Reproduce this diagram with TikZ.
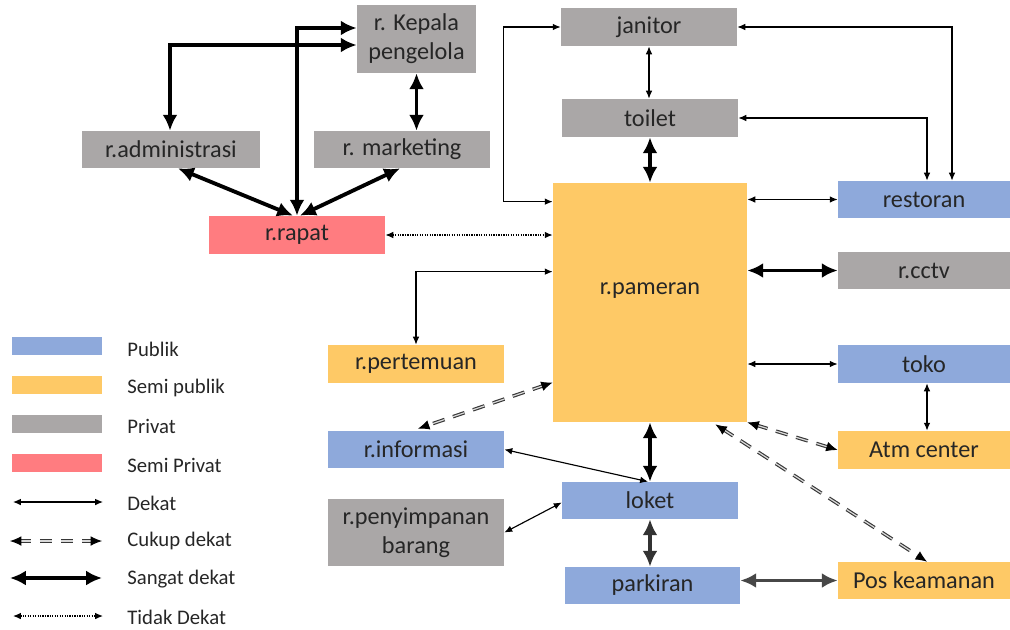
\documentclass[tikz,border=0pt]{standalone}
\usepackage{fontspec}
\setmainfont{Carlito}
\usetikzlibrary{arrows.meta,calc}
\newcommand\upx{*0.02cm}
\definecolor{publik}{RGB}{142,169,219}
\definecolor{semipublik}{RGB}{254,201,102}
\definecolor{privat}{RGB}{170,167,167}
\definecolor{semiprivat}{RGB}{255,124,128}
\definecolor{ink}{RGB}{38,38,38}
\definecolor{dashgray}{RGB}{55,55,55}
\begin{document}
\begin{tikzpicture}[x=0.02cm,y=-0.02cm,
  box/.style 2 args={rectangle, inner sep=0pt, text=ink, align=center,
    font=\fontsize{13.8}{16.5}\selectfont,
    minimum width=#1\upx, minimum height=#2\upx},
  swatch/.style={rectangle, inner sep=0pt, minimum width=90\upx, minimum height=18\upx},
  legtext/.style={anchor=west, inner sep=0pt, text=ink, font=\fontsize{11.8}{14}\selectfont},
  sangat/.style={line width=2.2pt, draw=black, {Latex[length=9pt,width=8.5pt]}-{Latex[length=9pt,width=8.5pt]}},
  dekat/.style={line width=0.65pt, draw=black, {Latex[length=4.5pt,width=3.8pt]}-{Latex[length=4.5pt,width=3.8pt]}},
  tidak/.style={line width=0.7pt, draw=black, dash pattern=on 0.7pt off 0.7pt,
    {Latex[length=4.5pt,width=3.8pt]}-{Latex[length=4.5pt,width=3.8pt]}},
  cukup/.style={line width=0.5pt, draw=black, dash pattern=on 0pt off 2000pt,
    {Latex[length=6.5pt,width=5.5pt]}-{Latex[length=6.5pt,width=5.5pt]},
    preaction={draw=dashgray, -, shorten <=5pt, shorten >=5pt, line width=0.65pt,
      double=white!85!black, double distance=0.7pt, dash pattern=on 7pt off 5pt}}
]
\useasboundingbox (0,0) rectangle (1010,629);

% rooms: private group (top left)
\node[box={119}{68}, fill=privat] (kepala) at (416.5,39) {r. Kepala\\pengelola};
\node[box={178}{37}, fill=privat] (admin) at (171,149.5) {r.administrasi};
\node[box={176}{37}, fill=privat] (marketing) at (402,149.5) {r. marketing};
\node[box={176}{38}, fill=semiprivat] (rapat) at (297,235) {r.rapat};

% rooms: central column
\node[box={176}{38}, fill=privat] (janitor) at (649,27) {janitor};
\node[box={176}{38}, fill=privat] (toilet) at (650,118) {toilet};
\node[box={194}{239}, fill=semipublik] (pameran) at (650,302.5) {};
\node[inner sep=0pt, text=ink, font=\fontsize{13.8}{16.5}\selectfont] (pamlbl) at (650,291) {r.pameran};
\node[box={176}{37}, fill=publik] (loket) at (650,500.5) {loket};
\node[box={175}{37}, fill=publik] (parkiran) at (652.5,585.5) {parkiran};

% rooms: right column
\node[box={172}{37}, fill=publik] (restoran) at (924,199.5) {restoran};
\node[box={172}{37}, fill=privat] (cctv) at (924,270.5) {r.cctv};
\node[box={172}{38}, fill=publik] (toko) at (924,364) {toko};
\node[box={172}{38}, fill=semipublik] (atm) at (924,450) {Atm center};
\node[box={172}{37}, fill=semipublik] (pos) at (924,580.5) {Pos keamanan};

% rooms: left column
\node[box={176}{38}, fill=semipublik] (pertemuan) at (416,364) {r.pertemuan};
\node[box={176}{37}, fill=publik] (informasi) at (416,449.5) {r.informasi};
\node[box={176}{67}, fill=privat] (simpan) at (416,532.5) {r.penyimpanan\\barang};

% very close relations
\draw[sangat] ($(kepala.west)+(0,6)$) -| ($(admin.north)+(-1,0)$);
\draw[sangat] ($(kepala.west)+(0,-11)$) -| (rapat.north);
\draw[sangat] (kepala.south) -- (kepala.south |- marketing.north);
\draw[sangat] ($(admin.south)+(7,0)$) -- ($(rapat.north)+(-4,0)$);
\draw[sangat] ($(marketing.south)+(-2,0)$) -- ($(rapat.north)+(3,0)$);
\draw[sangat] (toilet.south) -- (pameran.north);
\draw[sangat] (cctv.west -| pameran.east) -- (cctv.west);
\draw[sangat] (pameran.south) -- (loket.north);
\draw[sangat, draw=black!80] (loket.south) -- (loket.south |- parkiran.north);
\draw[sangat, draw=black!72] (pos.west -| parkiran.east) -- (pos.west);

% close relations
\draw[dekat] (janitor.west) -- ++(-57,0) |- ($(pameran.north west)+(0,19)$);
\draw[dekat] (janitor.south) -- (janitor.south |- toilet.north);
\draw[dekat] (janitor.east) -| ($(restoran.north)+(28,0)$);
\draw[dekat] (toilet.east) -| ($(restoran.north)+(3,0)$);
\draw[dekat] (restoran.west -| pameran.east) -- (restoran.west);
\draw[dekat] ($(pameran.north west)+(0,89)$) -| (pertemuan.north);
\draw[dekat] (toko.west -| pameran.east) -- (toko.west);
\draw[dekat] ($(toko.south)+(3,0)$) -- ($(atm.north)+(3,0)$);
\draw[dekat] (informasi.east) -- ($(loket.north)+(-2,0)$);
\draw[dekat] (simpan.east) -- ($(loket.west)+(0,2)$);

% fairly close relations
\draw[cukup] ($(pameran.west)+(0,80)$) -- ($(informasi.north)+(2,-2)$);
\draw[cukup] (pameran.south east) -- (atm.west);
\draw[cukup] ($(pameran.south east)+(-32,2)$) -- ($(pos.north)+(3,0)$);

% not close
\draw[tidak] (rapat.east) -- (rapat.east -| pameran.west);

% legend
\node[swatch, fill=publik] (lg1) at (57,346) {};
\node[swatch, fill=semipublik] (lg2) at (57,384.5) {};
\node[swatch, fill=privat] (lg3) at (57,424) {};
\node[swatch, fill=semiprivat] (lg4) at (57,463) {};
\node[legtext] (lt1) at (127,349) {Publik};
\node[legtext] (lt2) at (127,388) {Semi publik};
\node[legtext] (lt3) at (127,426) {Privat};
\node[legtext] (lt4) at (127,465) {Semi Privat};
\coordinate (la1) at (13,502);  \coordinate (lb1) at (103,502);
\coordinate (la2) at (10,541);  \coordinate (lb2) at (102,541);
\coordinate (la3) at (10,578);  \coordinate (lb3) at (102,578);
\coordinate (la4) at (13,616);  \coordinate (lb4) at (103,616);
\draw[dekat] (la1) -- (lb1);
\draw[cukup] (la2) -- (lb2);
\draw[sangat] (la3) -- (lb3);
\draw[tidak] (la4) -- (lb4);
\node[legtext] (lt5) at (127,503) {Dekat};
\node[legtext] (lt6) at (127,541) {Cukup dekat};
\node[legtext] (lt7) at (127,579) {Sangat dekat};
\node[legtext] (lt8) at (127,617) {Tidak Dekat};
\end{tikzpicture}
\end{document}
